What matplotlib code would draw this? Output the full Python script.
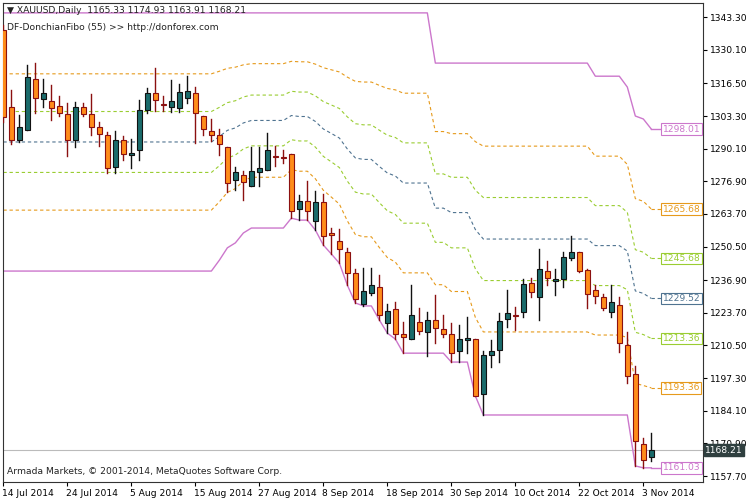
import matplotlib
matplotlib.use("Agg")
import matplotlib.pyplot as plt
import matplotlib.transforms as mtrans
import numpy as np

opens = [1338.0,1306.9,1293.6,1297.6,1318.2,1310.1,1309.3,1307.3,1304.1,1293.6,
         1306.9,1304.1,1298.8,1295.6,1282.7,1293.6,1287.5,1289.5,1305.7,1312.6,
         1308.3,1306.9,1306.5,1310.5,1312.6,1303.3,1297.2,1295.6,1290.7,1277.4,
         1279.4,1275.0,1280.6,1281.4,1287.1,1286.9,1287.9,1265.7,1268.9,1260.8,
         1268.5,1255.9,1252.7,1248.3,1239.8,1227.3,1231.7,1234.1,1219.6,1225.2,
         1215.1,1213.1,1220.0,1215.9,1220.8,1217.2,1215.1,1208.3,1212.7,1213.1,
         1190.9,1206.6,1208.7,1221.2,1222.8,1224.0,1235.8,1230.1,1240.6,1236.6,
         1237.4,1245.9,1248.3,1241.0,1232.9,1230.1,1224.0,1226.9,1210.7,1198.9,
         1170.6,1165.33]
highs = [1340.0,1313.8,1303.7,1323.9,1324.7,1318.2,1315.8,1311.4,1308.5,1308.9,
         1308.5,1312.2,1300.8,1296.8,1297.2,1295.2,1294.0,1309.7,1314.6,1322.7,
         1311.4,1317.8,1316.2,1319.4,1315.0,1303.3,1302.1,1298.0,1290.7,1282.7,
         1281.0,1290.7,1290.7,1296.4,1291.1,1289.5,1287.9,1271.3,1277.0,1272.9,
         1271.7,1258.0,1257.6,1249.9,1241.4,1241.8,1241.8,1239.0,1227.3,1228.1,
         1220.0,1234.9,1225.6,1224.0,1230.9,1222.8,1219.6,1218.8,1222.0,1213.1,
         1208.3,1212.7,1223.6,1232.9,1226.0,1237.4,1237.8,1249.5,1244.6,1241.4,
         1248.3,1254.8,1248.3,1241.4,1234.9,1231.3,1234.9,1230.1,1215.9,1202.2,
         1173.1,1174.93]
lows = [1301.0,1291.9,1292.8,1297.6,1304.5,1306.9,1301.7,1303.3,1287.1,1290.7,
        1303.3,1295.6,1291.1,1280.2,1280.2,1285.5,1282.3,1285.5,1304.5,1305.3,
        1305.3,1304.9,1304.9,1308.5,1292.4,1295.6,1293.2,1287.5,1272.5,1273.4,
        1269.3,1275.0,1275.0,1281.4,1283.1,1284.3,1262.0,1261.2,1261.2,1257.2,
        1251.1,1247.5,1243.8,1234.9,1227.7,1226.5,1230.9,1220.8,1215.5,1213.1,
        1207.4,1213.1,1215.1,1206.2,1211.5,1213.9,1203.8,1203.8,1207.4,1190.1,
        1182.4,1201.8,1203.8,1218.0,1216.8,1222.0,1230.1,1220.8,1234.9,1230.9,
        1234.1,1245.0,1240.2,1225.6,1227.7,1224.8,1222.0,1207.9,1195.3,1161.8,
        1161.03,1163.91]
closes = [1302.9,1293.6,1298.8,1319.1,1310.5,1312.6,1306.5,1304.5,1293.6,1306.9,
          1304.1,1298.8,1296.0,1282.3,1293.6,1287.9,1288.3,1305.7,1312.6,1309.7,
          1307.9,1309.3,1313.0,1313.4,1304.5,1298.0,1295.6,1291.9,1276.2,1280.6,
          1276.6,1281.0,1282.3,1289.5,1286.7,1286.5,1264.9,1268.9,1264.9,1268.5,
          1254.8,1255.2,1249.5,1239.8,1229.3,1232.5,1234.9,1222.8,1224.4,1215.1,
          1213.9,1222.8,1216.3,1220.8,1217.6,1215.1,1207.4,1213.1,1213.5,1190.1,
          1206.6,1208.3,1220.4,1223.6,1222.4,1235.3,1232.1,1241.4,1237.8,1237.4,
          1246.3,1248.3,1240.6,1231.3,1230.5,1225.6,1228.1,1211.5,1198.2,1171.9,
          1164.2,1168.21]

# Donchian(55) channel values as displayed
upper = [1345.0]*54 + [1324.7]*20 + [1319.4,1319.4,1319.4,1319.4,1315.0,1303.3,1302.1,1298.01]
lower = ([1240.6]*27 + [1245.0,1250.0,1252.0,1256.0,1258.0,1258.0,1258.0,1258.0,1258.0,
          1262.0,1261.2,1261.2,1257.2,1251.1,1247.5,1243.8,1234.9,1227.7,1226.5,1226.5,
          1220.8,1215.5,1213.1,1207.4,1207.4,1207.4,1207.4,1207.4,1207.4,1203.8,1203.8,
          1203.8,1190.1] + [1182.4]*19 + [1161.8,1161.03,1161.03])

date_labels = ["14 Jul 2014","24 Jul 2014","5 Aug 2014","15 Aug 2014","27 Aug 2014",
               "8 Sep 2014","18 Sep 2014","30 Sep 2014","10 Oct 2014","22 Oct 2014","3 Nov 2014"]
date_idx = [0,8,16,24,32,40,48,56,64,72,80]
price_ticks = [1343.30,1330.10,1316.50,1303.30,1290.10,1276.90,1263.70,1250.50,
               1236.90,1223.70,1210.50,1197.30,1184.10,1170.90,1157.70]

FS = 6.6
fig = plt.figure(figsize=(7.5,5), dpi=100)
ax = fig.add_axes([3/750, 18/500, 700/750, 479/500])
x = np.arange(len(opens))
up = np.array(upper); lo = np.array(lower)
rng = up - lo
levels = [(0.764,'#e69a1c'),(0.618,'#9acd32'),(0.5,'#4f7390'),(0.382,'#9acd32'),(0.236,'#e69a1c')]
ax.plot(x, up, color='#cc77cc', lw=1)
ax.plot(x, lo, color='#cc77cc', lw=1)
for f,c in levels:
    ax.plot(x, lo+f*rng, color=c, lw=0.8, ls=(0,(3,2.5)))
last = len(x)-1
ext = [last, last+1.3]
ax.plot(ext,[up[-1]]*2,color='#cc77cc',lw=1)
ax.plot(ext,[lo[-1]]*2,color='#cc77cc',lw=1)
for f,c in levels:
    ax.plot(ext,[lo[-1]+f*rng[-1]]*2,color=c,lw=0.8,ls=(0,(3,2.5)))
ax.axhline(closes[-1], color='#bbbbbb', lw=0.8, zorder=1)

for i,(o,h,l,c) in enumerate(zip(opens,highs,lows,closes)):
    bull = c > o
    fc = '#1a6b6b' if bull else '#ff8c1a'
    wc = '#111111' if bull else '#8b1010'
    ax.plot([i,i],[l,h],color=wc,lw=1,zorder=3)
    b0, b1 = min(o,c), max(o,c)
    hgt = max(b1-b0, 0.4)
    ax.add_patch(plt.Rectangle((i-0.3,b0),0.6,hgt,facecolor=fc,edgecolor=wc,lw=0.8,zorder=4))

ax.set_xlim(-0.05, 87.46)
ax.set_ylim(1155.3, 1349.0)
ax.yaxis.tick_right()
ax.set_yticks(price_ticks)
ax.set_yticklabels([f"{p:.2f}" for p in price_ticks], fontsize=FS)
ax.set_xticks(date_idx)
ax.set_xticklabels(date_labels, fontsize=FS, ha='left')
ax.tick_params(axis='x', length=3, pad=2)
ax.tick_params(axis='y', length=3, pad=2)
off = mtrans.ScaledTranslation(-1/72, 0, fig.dpi_scale_trans)
for t in ax.get_xticklabels():
    t.set_transform(t.get_transform() + off)
for s in ax.spines.values():
    s.set_color('#333333'); s.set_linewidth(0.8)

boxes = [(upper[-1],'#cc77cc'),(lo[-1]+0.764*rng[-1],'#e69a1c'),(lo[-1]+0.618*rng[-1],'#9acd32'),
         (lo[-1]+0.5*rng[-1],'#4f7390'),(lo[-1]+0.382*rng[-1],'#9acd32'),
         (lo[-1]+0.236*rng[-1],'#e69a1c'),(lower[-1],'#cc77cc')]
for v,c in boxes:
    ax.text(82.4, v, f"{v:.2f}", color=c, fontsize=FS, va='center', ha='left',
            bbox=dict(boxstyle='square,pad=0.15', fc='white', ec=c, lw=0.8), zorder=6)
ax.text(1.003, closes[-1], f"{closes[-1]:.2f}", transform=ax.get_yaxis_transform(),
        color='white', fontsize=FS, va='center', ha='left',
        bbox=dict(boxstyle='square,pad=0.15', fc='#2f3f3f', ec='#2f3f3f'), zorder=7, clip_on=False)

ax.text(0.006, 0.993, "\u25bc XAUUSD,Daily  1165.33 1174.93 1163.91 1168.21", transform=ax.transAxes,
        fontsize=FS, va='top', ha='left', color='#222222')
ax.text(0.006, 0.958, "DF-DonchianFibo (55) >> http://donforex.com", transform=ax.transAxes,
        fontsize=FS, va='top', ha='left', color='#222222')
ax.text(0.006, 0.012, "Armada Markets, \u00a9 2001-2014, MetaQuotes Software Corp.", transform=ax.transAxes,
        fontsize=FS, va='bottom', ha='left', color='#222222')
fig.savefig("out.png", dpi=100)
